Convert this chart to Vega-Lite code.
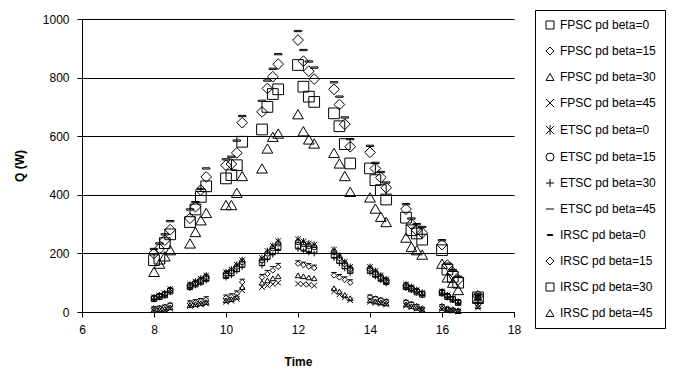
{
"$schema":"https://vega.github.io/schema/vega-lite/v6.json",
"width":432,"height":293,
"autosize":{"type":"none"},
"padding":{"left":82,"top":19,"right":170,"bottom":62},
"background":"white",
"config":{"font":"Liberation Sans","view":{"stroke":null},
"axis":{"domainColor":"black","tickColor":"black","labelColor":"black","titleColor":"black","labelFontSize":12,"titleFontSize":12,"titleFontWeight":"bold","tickSize":5,"labelFont":"Liberation Sans","titleFont":"Liberation Sans"}},
"data":{"values":[
{"Time":8,"Series":"FPSC pd beta=0","Q":45},{"Time":8.15,"Series":"FPSC pd beta=0","Q":52},{"Time":8.3,"Series":"FPSC pd beta=0","Q":58},{"Time":8.45,"Series":"FPSC pd beta=0","Q":71},{"Time":9,"Series":"FPSC pd beta=0","Q":86},{"Time":9.15,"Series":"FPSC pd beta=0","Q":95},{"Time":9.3,"Series":"FPSC pd beta=0","Q":104},{"Time":9.45,"Series":"FPSC pd beta=0","Q":114},{"Time":10,"Series":"FPSC pd beta=0","Q":124},{"Time":10.15,"Series":"FPSC pd beta=0","Q":133},{"Time":10.3,"Series":"FPSC pd beta=0","Q":147},{"Time":10.45,"Series":"FPSC pd beta=0","Q":162},{"Time":11,"Series":"FPSC pd beta=0","Q":168},{"Time":11.15,"Series":"FPSC pd beta=0","Q":190},{"Time":11.3,"Series":"FPSC pd beta=0","Q":207},{"Time":11.45,"Series":"FPSC pd beta=0","Q":222},{"Time":12,"Series":"FPSC pd beta=0","Q":227},{"Time":12.15,"Series":"FPSC pd beta=0","Q":220},{"Time":12.3,"Series":"FPSC pd beta=0","Q":215},{"Time":12.45,"Series":"FPSC pd beta=0","Q":211},{"Time":13,"Series":"FPSC pd beta=0","Q":195},{"Time":13.15,"Series":"FPSC pd beta=0","Q":176},{"Time":13.3,"Series":"FPSC pd beta=0","Q":157},{"Time":13.45,"Series":"FPSC pd beta=0","Q":141},{"Time":14,"Series":"FPSC pd beta=0","Q":141},{"Time":14.15,"Series":"FPSC pd beta=0","Q":128},{"Time":14.3,"Series":"FPSC pd beta=0","Q":114},{"Time":14.45,"Series":"FPSC pd beta=0","Q":103},{"Time":15,"Series":"FPSC pd beta=0","Q":86},{"Time":15.15,"Series":"FPSC pd beta=0","Q":78},{"Time":15.3,"Series":"FPSC pd beta=0","Q":68},{"Time":15.45,"Series":"FPSC pd beta=0","Q":60},{"Time":16,"Series":"FPSC pd beta=0","Q":65},{"Time":16.15,"Series":"FPSC pd beta=0","Q":52},{"Time":16.3,"Series":"FPSC pd beta=0","Q":43},{"Time":16.45,"Series":"FPSC pd beta=0","Q":32},{"Time":17,"Series":"FPSC pd beta=0","Q":47},
{"Time":8,"Series":"FPSC pd beta=15","Q":12},{"Time":8.15,"Series":"FPSC pd beta=15","Q":14},{"Time":8.3,"Series":"FPSC pd beta=15","Q":17},{"Time":8.45,"Series":"FPSC pd beta=15","Q":24},{"Time":9,"Series":"FPSC pd beta=15","Q":30},{"Time":9.15,"Series":"FPSC pd beta=15","Q":33},{"Time":9.3,"Series":"FPSC pd beta=15","Q":37},{"Time":9.45,"Series":"FPSC pd beta=15","Q":42},{"Time":10,"Series":"FPSC pd beta=15","Q":48},{"Time":10.15,"Series":"FPSC pd beta=15","Q":52},{"Time":10.3,"Series":"FPSC pd beta=15","Q":62},{"Time":10.45,"Series":"FPSC pd beta=15","Q":102},{"Time":11,"Series":"FPSC pd beta=15","Q":118},{"Time":11.15,"Series":"FPSC pd beta=15","Q":130},{"Time":11.3,"Series":"FPSC pd beta=15","Q":142},{"Time":11.45,"Series":"FPSC pd beta=15","Q":154},{"Time":12,"Series":"FPSC pd beta=15","Q":165},{"Time":12.15,"Series":"FPSC pd beta=15","Q":160},{"Time":12.3,"Series":"FPSC pd beta=15","Q":155},{"Time":12.45,"Series":"FPSC pd beta=15","Q":150},{"Time":13,"Series":"FPSC pd beta=15","Q":125},{"Time":13.15,"Series":"FPSC pd beta=15","Q":118},{"Time":13.3,"Series":"FPSC pd beta=15","Q":110},{"Time":13.45,"Series":"FPSC pd beta=15","Q":100},{"Time":14,"Series":"FPSC pd beta=15","Q":51},{"Time":14.15,"Series":"FPSC pd beta=15","Q":46},{"Time":14.3,"Series":"FPSC pd beta=15","Q":41},{"Time":14.45,"Series":"FPSC pd beta=15","Q":36},{"Time":15,"Series":"FPSC pd beta=15","Q":34},{"Time":15.15,"Series":"FPSC pd beta=15","Q":28},{"Time":15.3,"Series":"FPSC pd beta=15","Q":20},{"Time":15.45,"Series":"FPSC pd beta=15","Q":12},{"Time":16,"Series":"FPSC pd beta=15","Q":20},{"Time":16.15,"Series":"FPSC pd beta=15","Q":12},{"Time":16.3,"Series":"FPSC pd beta=15","Q":8},{"Time":16.45,"Series":"FPSC pd beta=15","Q":5},{"Time":17,"Series":"FPSC pd beta=15","Q":25},
{"Time":8,"Series":"FPSC pd beta=30","Q":8},{"Time":8.15,"Series":"FPSC pd beta=30","Q":9},{"Time":8.3,"Series":"FPSC pd beta=30","Q":11},{"Time":8.45,"Series":"FPSC pd beta=30","Q":16},{"Time":9,"Series":"FPSC pd beta=30","Q":24},{"Time":9.15,"Series":"FPSC pd beta=30","Q":27},{"Time":9.3,"Series":"FPSC pd beta=30","Q":30},{"Time":9.45,"Series":"FPSC pd beta=30","Q":34},{"Time":10,"Series":"FPSC pd beta=30","Q":40},{"Time":10.15,"Series":"FPSC pd beta=30","Q":44},{"Time":10.3,"Series":"FPSC pd beta=30","Q":52},{"Time":10.45,"Series":"FPSC pd beta=30","Q":85},{"Time":11,"Series":"FPSC pd beta=30","Q":100},{"Time":11.15,"Series":"FPSC pd beta=30","Q":108},{"Time":11.3,"Series":"FPSC pd beta=30","Q":115},{"Time":11.45,"Series":"FPSC pd beta=30","Q":122},{"Time":12,"Series":"FPSC pd beta=30","Q":125},{"Time":12.15,"Series":"FPSC pd beta=30","Q":122},{"Time":12.3,"Series":"FPSC pd beta=30","Q":118},{"Time":12.45,"Series":"FPSC pd beta=30","Q":115},{"Time":13,"Series":"FPSC pd beta=30","Q":81},{"Time":13.15,"Series":"FPSC pd beta=30","Q":70},{"Time":13.3,"Series":"FPSC pd beta=30","Q":58},{"Time":13.45,"Series":"FPSC pd beta=30","Q":47},{"Time":14,"Series":"FPSC pd beta=30","Q":40},{"Time":14.15,"Series":"FPSC pd beta=30","Q":36},{"Time":14.3,"Series":"FPSC pd beta=30","Q":33},{"Time":14.45,"Series":"FPSC pd beta=30","Q":30},{"Time":15,"Series":"FPSC pd beta=30","Q":26},{"Time":15.15,"Series":"FPSC pd beta=30","Q":20},{"Time":15.3,"Series":"FPSC pd beta=30","Q":14},{"Time":15.45,"Series":"FPSC pd beta=30","Q":8},{"Time":16,"Series":"FPSC pd beta=30","Q":14},{"Time":16.15,"Series":"FPSC pd beta=30","Q":9},{"Time":16.3,"Series":"FPSC pd beta=30","Q":6},{"Time":16.45,"Series":"FPSC pd beta=30","Q":3},{"Time":17,"Series":"FPSC pd beta=30","Q":20},
{"Time":8,"Series":"FPSC pd beta=45","Q":5},{"Time":8.15,"Series":"FPSC pd beta=45","Q":6},{"Time":8.3,"Series":"FPSC pd beta=45","Q":7},{"Time":8.45,"Series":"FPSC pd beta=45","Q":11},{"Time":9,"Series":"FPSC pd beta=45","Q":20},{"Time":9.15,"Series":"FPSC pd beta=45","Q":22},{"Time":9.3,"Series":"FPSC pd beta=45","Q":25},{"Time":9.45,"Series":"FPSC pd beta=45","Q":28},{"Time":10,"Series":"FPSC pd beta=45","Q":35},{"Time":10.15,"Series":"FPSC pd beta=45","Q":38},{"Time":10.3,"Series":"FPSC pd beta=45","Q":45},{"Time":10.45,"Series":"FPSC pd beta=45","Q":74},{"Time":11,"Series":"FPSC pd beta=45","Q":85},{"Time":11.15,"Series":"FPSC pd beta=45","Q":90},{"Time":11.3,"Series":"FPSC pd beta=45","Q":95},{"Time":11.45,"Series":"FPSC pd beta=45","Q":100},{"Time":12,"Series":"FPSC pd beta=45","Q":97},{"Time":12.15,"Series":"FPSC pd beta=45","Q":95},{"Time":12.3,"Series":"FPSC pd beta=45","Q":93},{"Time":12.45,"Series":"FPSC pd beta=45","Q":90},{"Time":13,"Series":"FPSC pd beta=45","Q":70},{"Time":13.15,"Series":"FPSC pd beta=45","Q":60},{"Time":13.3,"Series":"FPSC pd beta=45","Q":50},{"Time":13.45,"Series":"FPSC pd beta=45","Q":40},{"Time":14,"Series":"FPSC pd beta=45","Q":35},{"Time":14.15,"Series":"FPSC pd beta=45","Q":31},{"Time":14.3,"Series":"FPSC pd beta=45","Q":28},{"Time":14.45,"Series":"FPSC pd beta=45","Q":25},{"Time":15,"Series":"FPSC pd beta=45","Q":22},{"Time":15.15,"Series":"FPSC pd beta=45","Q":16},{"Time":15.3,"Series":"FPSC pd beta=45","Q":11},{"Time":15.45,"Series":"FPSC pd beta=45","Q":6},{"Time":16,"Series":"FPSC pd beta=45","Q":10},{"Time":16.15,"Series":"FPSC pd beta=45","Q":6},{"Time":16.3,"Series":"FPSC pd beta=45","Q":4},{"Time":16.45,"Series":"FPSC pd beta=45","Q":2},{"Time":17,"Series":"FPSC pd beta=45","Q":15},
{"Time":8,"Series":"ETSC pd beta=0","Q":50},{"Time":8.15,"Series":"ETSC pd beta=0","Q":57},{"Time":8.3,"Series":"ETSC pd beta=0","Q":64},{"Time":8.45,"Series":"ETSC pd beta=0","Q":78},{"Time":9,"Series":"ETSC pd beta=0","Q":94},{"Time":9.15,"Series":"ETSC pd beta=0","Q":104},{"Time":9.3,"Series":"ETSC pd beta=0","Q":114},{"Time":9.45,"Series":"ETSC pd beta=0","Q":125},{"Time":10,"Series":"ETSC pd beta=0","Q":136},{"Time":10.15,"Series":"ETSC pd beta=0","Q":145},{"Time":10.3,"Series":"ETSC pd beta=0","Q":161},{"Time":10.45,"Series":"ETSC pd beta=0","Q":177},{"Time":11,"Series":"ETSC pd beta=0","Q":184},{"Time":11.15,"Series":"ETSC pd beta=0","Q":208},{"Time":11.3,"Series":"ETSC pd beta=0","Q":226},{"Time":11.45,"Series":"ETSC pd beta=0","Q":242},{"Time":12,"Series":"ETSC pd beta=0","Q":248},{"Time":12.15,"Series":"ETSC pd beta=0","Q":241},{"Time":12.3,"Series":"ETSC pd beta=0","Q":234},{"Time":12.45,"Series":"ETSC pd beta=0","Q":230},{"Time":13,"Series":"ETSC pd beta=0","Q":213},{"Time":13.15,"Series":"ETSC pd beta=0","Q":192},{"Time":13.3,"Series":"ETSC pd beta=0","Q":171},{"Time":13.45,"Series":"ETSC pd beta=0","Q":154},{"Time":14,"Series":"ETSC pd beta=0","Q":154},{"Time":14.15,"Series":"ETSC pd beta=0","Q":140},{"Time":14.3,"Series":"ETSC pd beta=0","Q":125},{"Time":14.45,"Series":"ETSC pd beta=0","Q":112},{"Time":15,"Series":"ETSC pd beta=0","Q":94},{"Time":15.15,"Series":"ETSC pd beta=0","Q":85},{"Time":15.3,"Series":"ETSC pd beta=0","Q":75},{"Time":15.45,"Series":"ETSC pd beta=0","Q":65},{"Time":16,"Series":"ETSC pd beta=0","Q":70},{"Time":16.15,"Series":"ETSC pd beta=0","Q":57},{"Time":16.3,"Series":"ETSC pd beta=0","Q":47},{"Time":16.45,"Series":"ETSC pd beta=0","Q":35},{"Time":17,"Series":"ETSC pd beta=0","Q":52},
{"Time":8,"Series":"ETSC pd beta=15","Q":48},{"Time":8.15,"Series":"ETSC pd beta=15","Q":55},{"Time":8.3,"Series":"ETSC pd beta=15","Q":62},{"Time":8.45,"Series":"ETSC pd beta=15","Q":75},{"Time":9,"Series":"ETSC pd beta=15","Q":91},{"Time":9.15,"Series":"ETSC pd beta=15","Q":100},{"Time":9.3,"Series":"ETSC pd beta=15","Q":110},{"Time":9.45,"Series":"ETSC pd beta=15","Q":120},{"Time":10,"Series":"ETSC pd beta=15","Q":131},{"Time":10.15,"Series":"ETSC pd beta=15","Q":140},{"Time":10.3,"Series":"ETSC pd beta=15","Q":155},{"Time":10.45,"Series":"ETSC pd beta=15","Q":171},{"Time":11,"Series":"ETSC pd beta=15","Q":177},{"Time":11.15,"Series":"ETSC pd beta=15","Q":200},{"Time":11.3,"Series":"ETSC pd beta=15","Q":218},{"Time":11.45,"Series":"ETSC pd beta=15","Q":234},{"Time":12,"Series":"ETSC pd beta=15","Q":239},{"Time":12.15,"Series":"ETSC pd beta=15","Q":232},{"Time":12.3,"Series":"ETSC pd beta=15","Q":226},{"Time":12.45,"Series":"ETSC pd beta=15","Q":222},{"Time":13,"Series":"ETSC pd beta=15","Q":205},{"Time":13.15,"Series":"ETSC pd beta=15","Q":185},{"Time":13.3,"Series":"ETSC pd beta=15","Q":165},{"Time":13.45,"Series":"ETSC pd beta=15","Q":148},{"Time":14,"Series":"ETSC pd beta=15","Q":148},{"Time":14.15,"Series":"ETSC pd beta=15","Q":135},{"Time":14.3,"Series":"ETSC pd beta=15","Q":120},{"Time":14.45,"Series":"ETSC pd beta=15","Q":108},{"Time":15,"Series":"ETSC pd beta=15","Q":91},{"Time":15.15,"Series":"ETSC pd beta=15","Q":82},{"Time":15.3,"Series":"ETSC pd beta=15","Q":72},{"Time":15.45,"Series":"ETSC pd beta=15","Q":63},{"Time":16,"Series":"ETSC pd beta=15","Q":68},{"Time":16.15,"Series":"ETSC pd beta=15","Q":55},{"Time":16.3,"Series":"ETSC pd beta=15","Q":45},{"Time":16.45,"Series":"ETSC pd beta=15","Q":34},{"Time":17,"Series":"ETSC pd beta=15","Q":50},
{"Time":8,"Series":"ETSC pd beta=30","Q":42},{"Time":8.15,"Series":"ETSC pd beta=30","Q":49},{"Time":8.3,"Series":"ETSC pd beta=30","Q":55},{"Time":8.45,"Series":"ETSC pd beta=30","Q":67},{"Time":9,"Series":"ETSC pd beta=30","Q":81},{"Time":9.15,"Series":"ETSC pd beta=30","Q":90},{"Time":9.3,"Series":"ETSC pd beta=30","Q":98},{"Time":9.45,"Series":"ETSC pd beta=30","Q":107},{"Time":10,"Series":"ETSC pd beta=30","Q":117},{"Time":10.15,"Series":"ETSC pd beta=30","Q":125},{"Time":10.3,"Series":"ETSC pd beta=30","Q":139},{"Time":10.45,"Series":"ETSC pd beta=30","Q":153},{"Time":11,"Series":"ETSC pd beta=30","Q":158},{"Time":11.15,"Series":"ETSC pd beta=30","Q":179},{"Time":11.3,"Series":"ETSC pd beta=30","Q":195},{"Time":11.45,"Series":"ETSC pd beta=30","Q":210},{"Time":12,"Series":"ETSC pd beta=30","Q":215},{"Time":12.15,"Series":"ETSC pd beta=30","Q":208},{"Time":12.3,"Series":"ETSC pd beta=30","Q":203},{"Time":12.45,"Series":"ETSC pd beta=30","Q":199},{"Time":13,"Series":"ETSC pd beta=30","Q":184},{"Time":13.15,"Series":"ETSC pd beta=30","Q":166},{"Time":13.3,"Series":"ETSC pd beta=30","Q":148},{"Time":13.45,"Series":"ETSC pd beta=30","Q":133},{"Time":14,"Series":"ETSC pd beta=30","Q":133},{"Time":14.15,"Series":"ETSC pd beta=30","Q":121},{"Time":14.3,"Series":"ETSC pd beta=30","Q":108},{"Time":14.45,"Series":"ETSC pd beta=30","Q":97},{"Time":15,"Series":"ETSC pd beta=30","Q":81},{"Time":15.15,"Series":"ETSC pd beta=30","Q":74},{"Time":15.3,"Series":"ETSC pd beta=30","Q":65},{"Time":15.45,"Series":"ETSC pd beta=30","Q":57},{"Time":16,"Series":"ETSC pd beta=30","Q":61},{"Time":16.15,"Series":"ETSC pd beta=30","Q":49},{"Time":16.3,"Series":"ETSC pd beta=30","Q":40},{"Time":16.45,"Series":"ETSC pd beta=30","Q":30},{"Time":17,"Series":"ETSC pd beta=30","Q":45},
{"Time":8,"Series":"ETSC pd beta=45","Q":18},{"Time":8.15,"Series":"ETSC pd beta=45","Q":20},{"Time":8.3,"Series":"ETSC pd beta=45","Q":24},{"Time":8.45,"Series":"ETSC pd beta=45","Q":30},{"Time":9,"Series":"ETSC pd beta=45","Q":38},{"Time":9.15,"Series":"ETSC pd beta=45","Q":42},{"Time":9.3,"Series":"ETSC pd beta=45","Q":46},{"Time":9.45,"Series":"ETSC pd beta=45","Q":52},{"Time":10,"Series":"ETSC pd beta=45","Q":58},{"Time":10.15,"Series":"ETSC pd beta=45","Q":62},{"Time":10.3,"Series":"ETSC pd beta=45","Q":72},{"Time":10.45,"Series":"ETSC pd beta=45","Q":112},{"Time":11,"Series":"ETSC pd beta=45","Q":128},{"Time":11.15,"Series":"ETSC pd beta=45","Q":142},{"Time":11.3,"Series":"ETSC pd beta=45","Q":155},{"Time":11.45,"Series":"ETSC pd beta=45","Q":166},{"Time":12,"Series":"ETSC pd beta=45","Q":175},{"Time":12.15,"Series":"ETSC pd beta=45","Q":170},{"Time":12.3,"Series":"ETSC pd beta=45","Q":165},{"Time":12.45,"Series":"ETSC pd beta=45","Q":160},{"Time":13,"Series":"ETSC pd beta=45","Q":135},{"Time":13.15,"Series":"ETSC pd beta=45","Q":128},{"Time":13.3,"Series":"ETSC pd beta=45","Q":120},{"Time":13.45,"Series":"ETSC pd beta=45","Q":110},{"Time":14,"Series":"ETSC pd beta=45","Q":58},{"Time":14.15,"Series":"ETSC pd beta=45","Q":52},{"Time":14.3,"Series":"ETSC pd beta=45","Q":47},{"Time":14.45,"Series":"ETSC pd beta=45","Q":42},{"Time":15,"Series":"ETSC pd beta=45","Q":40},{"Time":15.15,"Series":"ETSC pd beta=45","Q":33},{"Time":15.3,"Series":"ETSC pd beta=45","Q":25},{"Time":15.45,"Series":"ETSC pd beta=45","Q":16},{"Time":16,"Series":"ETSC pd beta=45","Q":25},{"Time":16.15,"Series":"ETSC pd beta=45","Q":16},{"Time":16.3,"Series":"ETSC pd beta=45","Q":11},{"Time":16.45,"Series":"ETSC pd beta=45","Q":8},{"Time":17,"Series":"ETSC pd beta=45","Q":30},
{"Time":8,"Series":"IRSC pd beta=0","Q":215},{"Time":8.15,"Series":"IRSC pd beta=0","Q":234},{"Time":8.3,"Series":"IRSC pd beta=0","Q":265},{"Time":8.45,"Series":"IRSC pd beta=0","Q":310},{"Time":9,"Series":"IRSC pd beta=0","Q":350},{"Time":9.15,"Series":"IRSC pd beta=0","Q":375},{"Time":9.3,"Series":"IRSC pd beta=0","Q":420},{"Time":9.45,"Series":"IRSC pd beta=0","Q":490},{"Time":10,"Series":"IRSC pd beta=0","Q":521},{"Time":10.15,"Series":"IRSC pd beta=0","Q":530},{"Time":10.3,"Series":"IRSC pd beta=0","Q":585},{"Time":10.45,"Series":"IRSC pd beta=0","Q":669},{"Time":11,"Series":"IRSC pd beta=0","Q":721},{"Time":11.15,"Series":"IRSC pd beta=0","Q":790},{"Time":11.3,"Series":"IRSC pd beta=0","Q":830},{"Time":11.45,"Series":"IRSC pd beta=0","Q":880},{"Time":12,"Series":"IRSC pd beta=0","Q":959},{"Time":12.15,"Series":"IRSC pd beta=0","Q":894},{"Time":12.3,"Series":"IRSC pd beta=0","Q":855},{"Time":12.45,"Series":"IRSC pd beta=0","Q":834},{"Time":13,"Series":"IRSC pd beta=0","Q":784},{"Time":13.15,"Series":"IRSC pd beta=0","Q":735},{"Time":13.3,"Series":"IRSC pd beta=0","Q":664},{"Time":13.45,"Series":"IRSC pd beta=0","Q":590},{"Time":14,"Series":"IRSC pd beta=0","Q":567},{"Time":14.15,"Series":"IRSC pd beta=0","Q":509},{"Time":14.3,"Series":"IRSC pd beta=0","Q":478},{"Time":14.45,"Series":"IRSC pd beta=0","Q":442},{"Time":15,"Series":"IRSC pd beta=0","Q":368},{"Time":15.15,"Series":"IRSC pd beta=0","Q":319},{"Time":15.3,"Series":"IRSC pd beta=0","Q":300},{"Time":15.45,"Series":"IRSC pd beta=0","Q":290},{"Time":16,"Series":"IRSC pd beta=0","Q":245},{"Time":16.15,"Series":"IRSC pd beta=0","Q":165},{"Time":16.3,"Series":"IRSC pd beta=0","Q":143},{"Time":16.45,"Series":"IRSC pd beta=0","Q":120},{"Time":17,"Series":"IRSC pd beta=0","Q":60},
{"Time":8,"Series":"IRSC pd beta=15","Q":200},{"Time":8.15,"Series":"IRSC pd beta=15","Q":216},{"Time":8.3,"Series":"IRSC pd beta=15","Q":245},{"Time":8.45,"Series":"IRSC pd beta=15","Q":281},{"Time":9,"Series":"IRSC pd beta=15","Q":320},{"Time":9.15,"Series":"IRSC pd beta=15","Q":359},{"Time":9.3,"Series":"IRSC pd beta=15","Q":416},{"Time":9.45,"Series":"IRSC pd beta=15","Q":461},{"Time":10,"Series":"IRSC pd beta=15","Q":501},{"Time":10.15,"Series":"IRSC pd beta=15","Q":505},{"Time":10.3,"Series":"IRSC pd beta=15","Q":543},{"Time":10.45,"Series":"IRSC pd beta=15","Q":646},{"Time":11,"Series":"IRSC pd beta=15","Q":683},{"Time":11.15,"Series":"IRSC pd beta=15","Q":763},{"Time":11.3,"Series":"IRSC pd beta=15","Q":803},{"Time":11.45,"Series":"IRSC pd beta=15","Q":846},{"Time":12,"Series":"IRSC pd beta=15","Q":928},{"Time":12.15,"Series":"IRSC pd beta=15","Q":856},{"Time":12.3,"Series":"IRSC pd beta=15","Q":822},{"Time":12.45,"Series":"IRSC pd beta=15","Q":795},{"Time":13,"Series":"IRSC pd beta=15","Q":760},{"Time":13.15,"Series":"IRSC pd beta=15","Q":708},{"Time":13.3,"Series":"IRSC pd beta=15","Q":641},{"Time":13.45,"Series":"IRSC pd beta=15","Q":564},{"Time":14,"Series":"IRSC pd beta=15","Q":545},{"Time":14.15,"Series":"IRSC pd beta=15","Q":490},{"Time":14.3,"Series":"IRSC pd beta=15","Q":459},{"Time":14.45,"Series":"IRSC pd beta=15","Q":424},{"Time":15,"Series":"IRSC pd beta=15","Q":351},{"Time":15.15,"Series":"IRSC pd beta=15","Q":300},{"Time":15.3,"Series":"IRSC pd beta=15","Q":279},{"Time":15.45,"Series":"IRSC pd beta=15","Q":270},{"Time":16,"Series":"IRSC pd beta=15","Q":230},{"Time":16.15,"Series":"IRSC pd beta=15","Q":160},{"Time":16.3,"Series":"IRSC pd beta=15","Q":135},{"Time":16.45,"Series":"IRSC pd beta=15","Q":110},{"Time":17,"Series":"IRSC pd beta=15","Q":55},
{"Time":8,"Series":"IRSC pd beta=30","Q":177},{"Time":8.15,"Series":"IRSC pd beta=30","Q":182},{"Time":8.3,"Series":"IRSC pd beta=30","Q":235},{"Time":8.45,"Series":"IRSC pd beta=30","Q":265},{"Time":9,"Series":"IRSC pd beta=30","Q":307},{"Time":9.15,"Series":"IRSC pd beta=30","Q":350},{"Time":9.3,"Series":"IRSC pd beta=30","Q":393},{"Time":9.45,"Series":"IRSC pd beta=30","Q":429},{"Time":10,"Series":"IRSC pd beta=30","Q":456},{"Time":10.15,"Series":"IRSC pd beta=30","Q":467},{"Time":10.3,"Series":"IRSC pd beta=30","Q":501},{"Time":10.45,"Series":"IRSC pd beta=30","Q":581},{"Time":11,"Series":"IRSC pd beta=30","Q":623},{"Time":11.15,"Series":"IRSC pd beta=30","Q":700},{"Time":11.3,"Series":"IRSC pd beta=30","Q":744},{"Time":11.45,"Series":"IRSC pd beta=30","Q":760},{"Time":12,"Series":"IRSC pd beta=30","Q":843},{"Time":12.15,"Series":"IRSC pd beta=30","Q":769},{"Time":12.3,"Series":"IRSC pd beta=30","Q":735},{"Time":12.45,"Series":"IRSC pd beta=30","Q":717},{"Time":13,"Series":"IRSC pd beta=30","Q":678},{"Time":13.15,"Series":"IRSC pd beta=30","Q":634},{"Time":13.3,"Series":"IRSC pd beta=30","Q":573},{"Time":13.45,"Series":"IRSC pd beta=30","Q":507},{"Time":14,"Series":"IRSC pd beta=30","Q":490},{"Time":14.15,"Series":"IRSC pd beta=30","Q":450},{"Time":14.3,"Series":"IRSC pd beta=30","Q":416},{"Time":14.45,"Series":"IRSC pd beta=30","Q":384},{"Time":15,"Series":"IRSC pd beta=30","Q":322},{"Time":15.15,"Series":"IRSC pd beta=30","Q":279},{"Time":15.3,"Series":"IRSC pd beta=30","Q":268},{"Time":15.45,"Series":"IRSC pd beta=30","Q":247},{"Time":16,"Series":"IRSC pd beta=30","Q":211},{"Time":16.15,"Series":"IRSC pd beta=30","Q":145},{"Time":16.3,"Series":"IRSC pd beta=30","Q":120},{"Time":16.45,"Series":"IRSC pd beta=30","Q":100},{"Time":17,"Series":"IRSC pd beta=30","Q":50},
{"Time":8,"Series":"IRSC pd beta=45","Q":137},{"Time":8.15,"Series":"IRSC pd beta=45","Q":165},{"Time":8.3,"Series":"IRSC pd beta=45","Q":190},{"Time":8.45,"Series":"IRSC pd beta=45","Q":211},{"Time":9,"Series":"IRSC pd beta=45","Q":234},{"Time":9.15,"Series":"IRSC pd beta=45","Q":273},{"Time":9.3,"Series":"IRSC pd beta=45","Q":313},{"Time":9.45,"Series":"IRSC pd beta=45","Q":338},{"Time":10,"Series":"IRSC pd beta=45","Q":365},{"Time":10.15,"Series":"IRSC pd beta=45","Q":365},{"Time":10.3,"Series":"IRSC pd beta=45","Q":407},{"Time":10.45,"Series":"IRSC pd beta=45","Q":464},{"Time":11,"Series":"IRSC pd beta=45","Q":490},{"Time":11.15,"Series":"IRSC pd beta=45","Q":558},{"Time":11.3,"Series":"IRSC pd beta=45","Q":598},{"Time":11.45,"Series":"IRSC pd beta=45","Q":609},{"Time":12,"Series":"IRSC pd beta=45","Q":675},{"Time":12.15,"Series":"IRSC pd beta=45","Q":617},{"Time":12.3,"Series":"IRSC pd beta=45","Q":589},{"Time":12.45,"Series":"IRSC pd beta=45","Q":575},{"Time":13,"Series":"IRSC pd beta=45","Q":543},{"Time":13.15,"Series":"IRSC pd beta=45","Q":507},{"Time":13.3,"Series":"IRSC pd beta=45","Q":464},{"Time":13.45,"Series":"IRSC pd beta=45","Q":410},{"Time":14,"Series":"IRSC pd beta=45","Q":391},{"Time":14.15,"Series":"IRSC pd beta=45","Q":353},{"Time":14.3,"Series":"IRSC pd beta=45","Q":325},{"Time":14.45,"Series":"IRSC pd beta=45","Q":307},{"Time":15,"Series":"IRSC pd beta=45","Q":254},{"Time":15.15,"Series":"IRSC pd beta=45","Q":222},{"Time":15.3,"Series":"IRSC pd beta=45","Q":211},{"Time":15.45,"Series":"IRSC pd beta=45","Q":196},{"Time":16,"Series":"IRSC pd beta=45","Q":165},{"Time":16.15,"Series":"IRSC pd beta=45","Q":118},{"Time":16.3,"Series":"IRSC pd beta=45","Q":100},{"Time":16.45,"Series":"IRSC pd beta=45","Q":75},{"Time":17,"Series":"IRSC pd beta=45","Q":45}
]},
"encoding":{
"x":{"field":"Time","type":"quantitative","scale":{"domain":[6,18],"nice":false,"zero":false},"axis":{"values":[6,8,10,12,14,16,18],"grid":false,"title":"Time","labelPadding":7,"titlePadding":21,"labelFlush":false}},
"y":{"field":"Q","type":"quantitative","scale":{"domain":[0,1000],"nice":false},"axis":{"values":[0,200,400,600,800,1000],"format":"d","grid":true,"gridColor":"black","gridOpacity":1,"gridWidth":1,"title":"Q (W)","labelPadding":8,"titlePadding":16}},
"shape":{"field":"Series","type":"nominal",
"scale":{"domain":["FPSC pd beta=0","FPSC pd beta=15","FPSC pd beta=30","FPSC pd beta=45","ETSC pd beta=0","ETSC pd beta=15","ETSC pd beta=30","ETSC pd beta=45","IRSC pd beta=0","IRSC pd beta=15","IRSC pd beta=30","IRSC pd beta=45"],
"range":["square","diamond","triangle-up","M-1,-1L1,1M-1,1L1,-1","M-1,-1L1,1M-1,1L1,-1M0,-1.2L0,1.2","circle","M-1,0L1,0M0,-1L0,1","M-1,0L1,0","M-0.7,-0.12L0.7,-0.12L0.7,0.12L-0.7,0.12Z","diamond","square","triangle-up"]},
"legend":{"title":null,"orient":"none","legendX":453,"legendY":-9,"strokeColor":"black","padding":9,"rowPadding":14,"symbolSize":64,"symbolStrokeColor":"black","symbolStrokeWidth":1,"symbolFillColor":"transparent","labelFontSize":12,"labelColor":"black","labelFont":"Liberation Sans","labelLimit":200}},
"color":{"value":"black"}
},
"layer":[
{"transform":[{"filter":{"field":"Series","oneOf":["FPSC pd beta=0","FPSC pd beta=15","FPSC pd beta=30","FPSC pd beta=45","ETSC pd beta=0","ETSC pd beta=15","ETSC pd beta=30","ETSC pd beta=45"]}}],
"mark":{"type":"point","filled":false,"size":30,"strokeWidth":1,"opacity":1}},
{"transform":[{"filter":{"field":"Series","oneOf":["IRSC pd beta=0","IRSC pd beta=15","IRSC pd beta=30","IRSC pd beta=45"]}}],
"mark":{"type":"point","filled":false,"size":115,"strokeWidth":1,"opacity":1}}
]
}
